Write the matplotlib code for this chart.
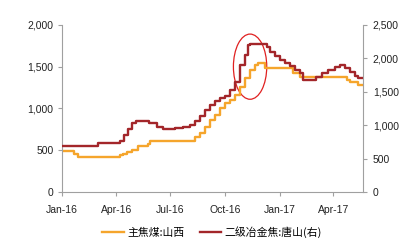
import matplotlib
matplotlib.use("Agg")
import matplotlib.pyplot as plt
import matplotlib.dates as mdates
from matplotlib.patches import Ellipse
import pandas as pd

plt.rcParams['font.family'] = ['Liberation Sans', 'Noto Sans CJK SC', 'DejaVu Sans']

# 主焦煤:山西 (left axis)
coal_dates = ["2016-01-01", "2016-01-22", "2016-01-28", "2016-04-07", "2016-04-12",
              "2016-04-20", "2016-04-27", "2016-05-08", "2016-05-24", "2016-05-28",
              "2016-08-11", "2016-08-20", "2016-08-28", "2016-09-06", "2016-09-14",
              "2016-09-23", "2016-10-01", "2016-10-09", "2016-10-18", "2016-10-26",
              "2016-11-04", "2016-11-12", "2016-11-21", "2016-11-26", "2016-12-07",
              "2017-01-23", "2017-02-04", "2017-04-24", "2017-04-29", "2017-05-12",
              "2017-05-21"]
coal_values = [492, 460, 425, 440, 455, 480, 505, 545, 575, 615,
               660, 705, 780, 860, 920, 1000, 1060, 1100, 1160, 1260,
               1360, 1460, 1520, 1540, 1480, 1430, 1380, 1340, 1320, 1280,
               1280]

# 二级冶金焦:唐山 (right axis)
coke_dates = ["2016-01-01", "2016-03-01", "2016-04-07", "2016-04-14", "2016-04-21",
              "2016-04-28", "2016-05-04", "2016-05-26", "2016-06-09", "2016-06-19",
              "2016-07-09", "2016-07-22", "2016-08-03", "2016-08-11", "2016-08-20",
              "2016-08-28", "2016-09-06", "2016-09-14", "2016-09-23", "2016-10-01",
              "2016-10-09", "2016-10-18", "2016-10-26", "2016-11-04", "2016-11-09",
              "2016-11-12", "2016-12-11", "2016-12-16", "2016-12-24", "2017-01-02",
              "2017-01-10", "2017-01-18", "2017-01-27", "2017-02-04", "2017-02-09",
              "2017-03-02", "2017-03-13", "2017-03-23", "2017-04-04", "2017-04-12",
              "2017-04-20", "2017-04-29", "2017-05-07", "2017-05-12", "2017-05-21"]
coke_values = [695, 730, 760, 850, 950, 1030, 1065, 1030, 980, 940,
               955, 980, 1010, 1060, 1130, 1220, 1300, 1360, 1400, 1440,
               1530, 1650, 1900, 2050, 2200, 2215, 2170, 2100, 2040, 1980,
               1930, 1885, 1825, 1775, 1680, 1725, 1775, 1825, 1875, 1900,
               1850, 1800, 1740, 1705, 1705]

tick_dates = ["2016-01-01", "2016-04-01", "2016-07-01", "2016-10-01", "2017-01-01", "2017-04-01"]
tick_labels = ["Jan-16", "Apr-16", "Jul-16", "Oct-16", "Jan-17", "Apr-17"]
left_ticks = [0, 500, 1000, 1500, 2000]
right_ticks = [0, 500, 1000, 1500, 2000, 2500]
series_names = ["主焦煤:山西", "二级冶金焦:唐山(右)"]

orange = "#F5A52C"
red = "#A3262A"
gray = "#A0A0A0"

fig = plt.figure(figsize=(4.16, 2.44), dpi=100)
ax = fig.add_axes([0.149, 0.213, 0.724, 0.685])
ax2 = ax.twinx()

cd = pd.to_datetime(coal_dates)
kd = pd.to_datetime(coke_dates)
l1, = ax.step(cd, coal_values, where='post', color=orange, lw=1.7, label=series_names[0])
l2, = ax2.step(kd, coke_values, where='post', color=red, lw=1.7, label=series_names[1])

ax.set_xlim(pd.Timestamp("2016-01-01"), pd.Timestamp("2017-05-21"))
ax.set_ylim(0, 2000)
ax2.set_ylim(0, 2500)
ax.set_yticks(left_ticks)
ax.set_yticklabels([f"{v:,}" for v in left_ticks])
ax2.set_yticks(right_ticks)
ax2.set_yticklabels([f"{v:,}" for v in right_ticks])
ax.set_xticks(pd.to_datetime(tick_dates))
ax.set_xticklabels(tick_labels)

for a in (ax, ax2):
    a.spines['top'].set_visible(False)
    for s in ('left', 'right', 'bottom'):
        a.spines[s].set_color(gray)
        a.spines[s].set_linewidth(0.8)
    a.tick_params(axis='both', colors=gray, labelcolor='#222222', labelsize=7.5,
                  length=3, width=0.8, direction='out')
ax.tick_params(axis='x', pad=6)
ax.tick_params(axis='y', pad=3)
ax2.tick_params(axis='y', pad=4)
ax.spines['right'].set_visible(False)
ax2.spines['left'].set_visible(False)
ax2.spines['bottom'].set_visible(False)

# highlight ellipse
cx = mdates.date2num(pd.Timestamp("2016-11-12"))
ell = Ellipse((cx, 1500), width=56, height=780, angle=0, fill=False,
              edgecolor="#E02020", lw=0.9)
ax.add_patch(ell)

fig.legend([l1, l2], series_names, loc='center', bbox_to_anchor=(0.51, 0.05),
           ncol=2, frameon=False, handlelength=2.0,
           columnspacing=1.4, handletextpad=0.3,
           prop={'family': ['Noto Sans CJK SC', 'DejaVu Sans'], 'size': 7.8})

fig.savefig("out.png", dpi=100)
